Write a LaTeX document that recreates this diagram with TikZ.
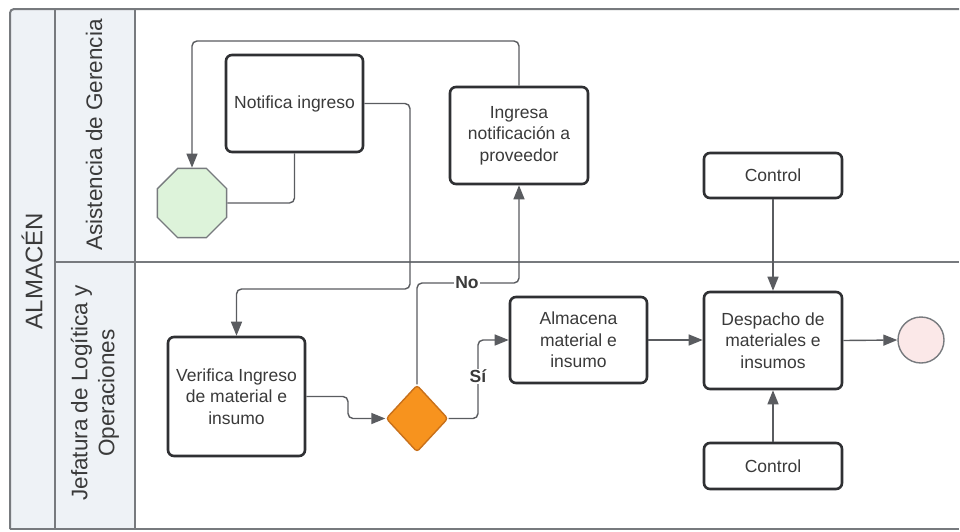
\documentclass[tikz,border=0pt]{standalone}
\usepackage{fontspec}
\setmainfont{Liberation Sans}
\usetikzlibrary{shapes.geometric,arrows.meta}
\definecolor{ink}{HTML}{3A3A3A}
\definecolor{boxline}{HTML}{2F3033}
\definecolor{wire}{HTML}{5A5C60}
\definecolor{frameline}{HTML}{777A7E}
\definecolor{lanefill}{HTML}{EEF2F6}
\definecolor{startfill}{HTML}{DDF3DA}
\definecolor{endfill}{HTML}{FBE8E8}
\definecolor{gatefill}{HTML}{F7931E}
\definecolor{gateline}{HTML}{C8701A}
\tikzset{
  task/.style={draw=boxline, line width=2.6pt, rounded corners=6pt, fill=white,
    text=ink, align=center, inner sep=2pt,
    font=\fontsize{17.5}{21.5}\selectfont},
  flow/.style={draw=wire, line width=1.4pt, rounded corners=5pt,
    -{Triangle[length=14pt,width=11pt]}},
  plainflow/.style={draw=wire, line width=1.4pt, rounded corners=5pt},
  lanetxt/.style={text=ink, align=center, rotate=90,
    font=\fontsize{22.5}{27}\selectfont},
  guard/.style={fill=white, text=ink, inner sep=1pt,
    font=\bfseries\fontsize{17.5}{21}\selectfont},
}
\begin{document}
\begin{tikzpicture}[x=1pt, y=-1pt]
\useasboundingbox (0,0) rectangle (960,531);
\fill[white] (0,0) rectangle (960,531);

% pool and lanes
\fill[lanefill] (10,9) rectangle (135,529);
\draw[frameline, line width=2pt, rounded corners=4pt] (10,529) -- (10,9) -- (959,9);
\draw[frameline, line width=2pt] (10,529) -- (959,529);
\draw[frameline, line width=1.6pt] (55,9) -- (55,529);
\draw[frameline, line width=1.6pt] (135,9) -- (135,529);
\draw[frameline, line width=2pt] (55,262) -- (959,262);

\node[lanetxt, font=\fontsize{24}{28}\selectfont] (pool) at (32,271) {ALMACÉN};
\node[lanetxt] (laneA) at (94,135) {Asistencia de Gerencia};
\node[lanetxt] (laneB) at (95,393) {Jefatura de Logítica y\\Operaciones};

% events and gateway
\node[regular polygon, regular polygon sides=8, minimum size=75pt, inner sep=0pt,
  draw=frameline, line width=1.4pt, fill=startfill] (start) at (192,203) {};
\node[circle, minimum size=46pt, inner sep=0pt, draw=frameline, line width=1.4pt,
  fill=endfill] (finish) at (921,340) {};
\node[diamond, minimum width=62pt, minimum height=67pt, inner sep=0pt,
  draw=gateline, line width=1.4pt, fill=gatefill, rounded corners=3pt] (gate) at (417,418.5) {};

% tasks
\node[task, minimum width=137pt, minimum height=97pt] (notif) at (294.5,103.5) {Notifica ingreso};
\node[task, minimum width=138pt, minimum height=97pt] (ingresa) at (519,135.5) {Ingresa\\notificación a\\proveedor};
\node[task, minimum width=138pt, minimum height=45pt] (ctrlA) at (773,175.5) {Control};
\node[task, minimum width=137pt, minimum height=119pt] (verif) at (236.5,396.5) {Verifica Ingreso\\de material e\\insumo};
\node[task, minimum width=137pt, minimum height=86pt] (almac) at (578.5,340) {Almacena\\material e\\insumo};
\node[task, minimum width=138pt, minimum height=97pt] (desp) at (773,340.5) {Despacho de\\materiales e\\insumos};
\node[task, minimum width=138pt, minimum height=46pt] (ctrlB) at (773,466) {Control};

% sequence flows
\draw[flow] (ingresa.north) -- (ingresa.north |- 0,41) -- (start.north |- 0,41) -- (start.north);
\draw[plainflow] (notif.south) |- (start.east);
\draw[flow] (notif.east) -| (410,289) -| (verif.north);
\draw[flow] (verif.east) -- (348,396.5) |- (gate.west);
\draw[flow] (gate.north) |- (ingresa.south |- 0,283) -- (ingresa.south);
\draw[flow] (gate.east) -| (478,340) -- (almac.west);
\draw[flow] (almac.east) -- (desp.west |- almac.east);
\draw[flow] (desp.east) -- (finish.west);
\draw[flow] (ctrlA.south) -- (desp.north);
\draw[flow] (ctrlB.north) -- (desp.south);

% gateway labels
\node[guard] (lblNo) at (467,283) {No};
\node[guard] (lblSi) at (478,376) {Sí};
\end{tikzpicture}
\end{document}
